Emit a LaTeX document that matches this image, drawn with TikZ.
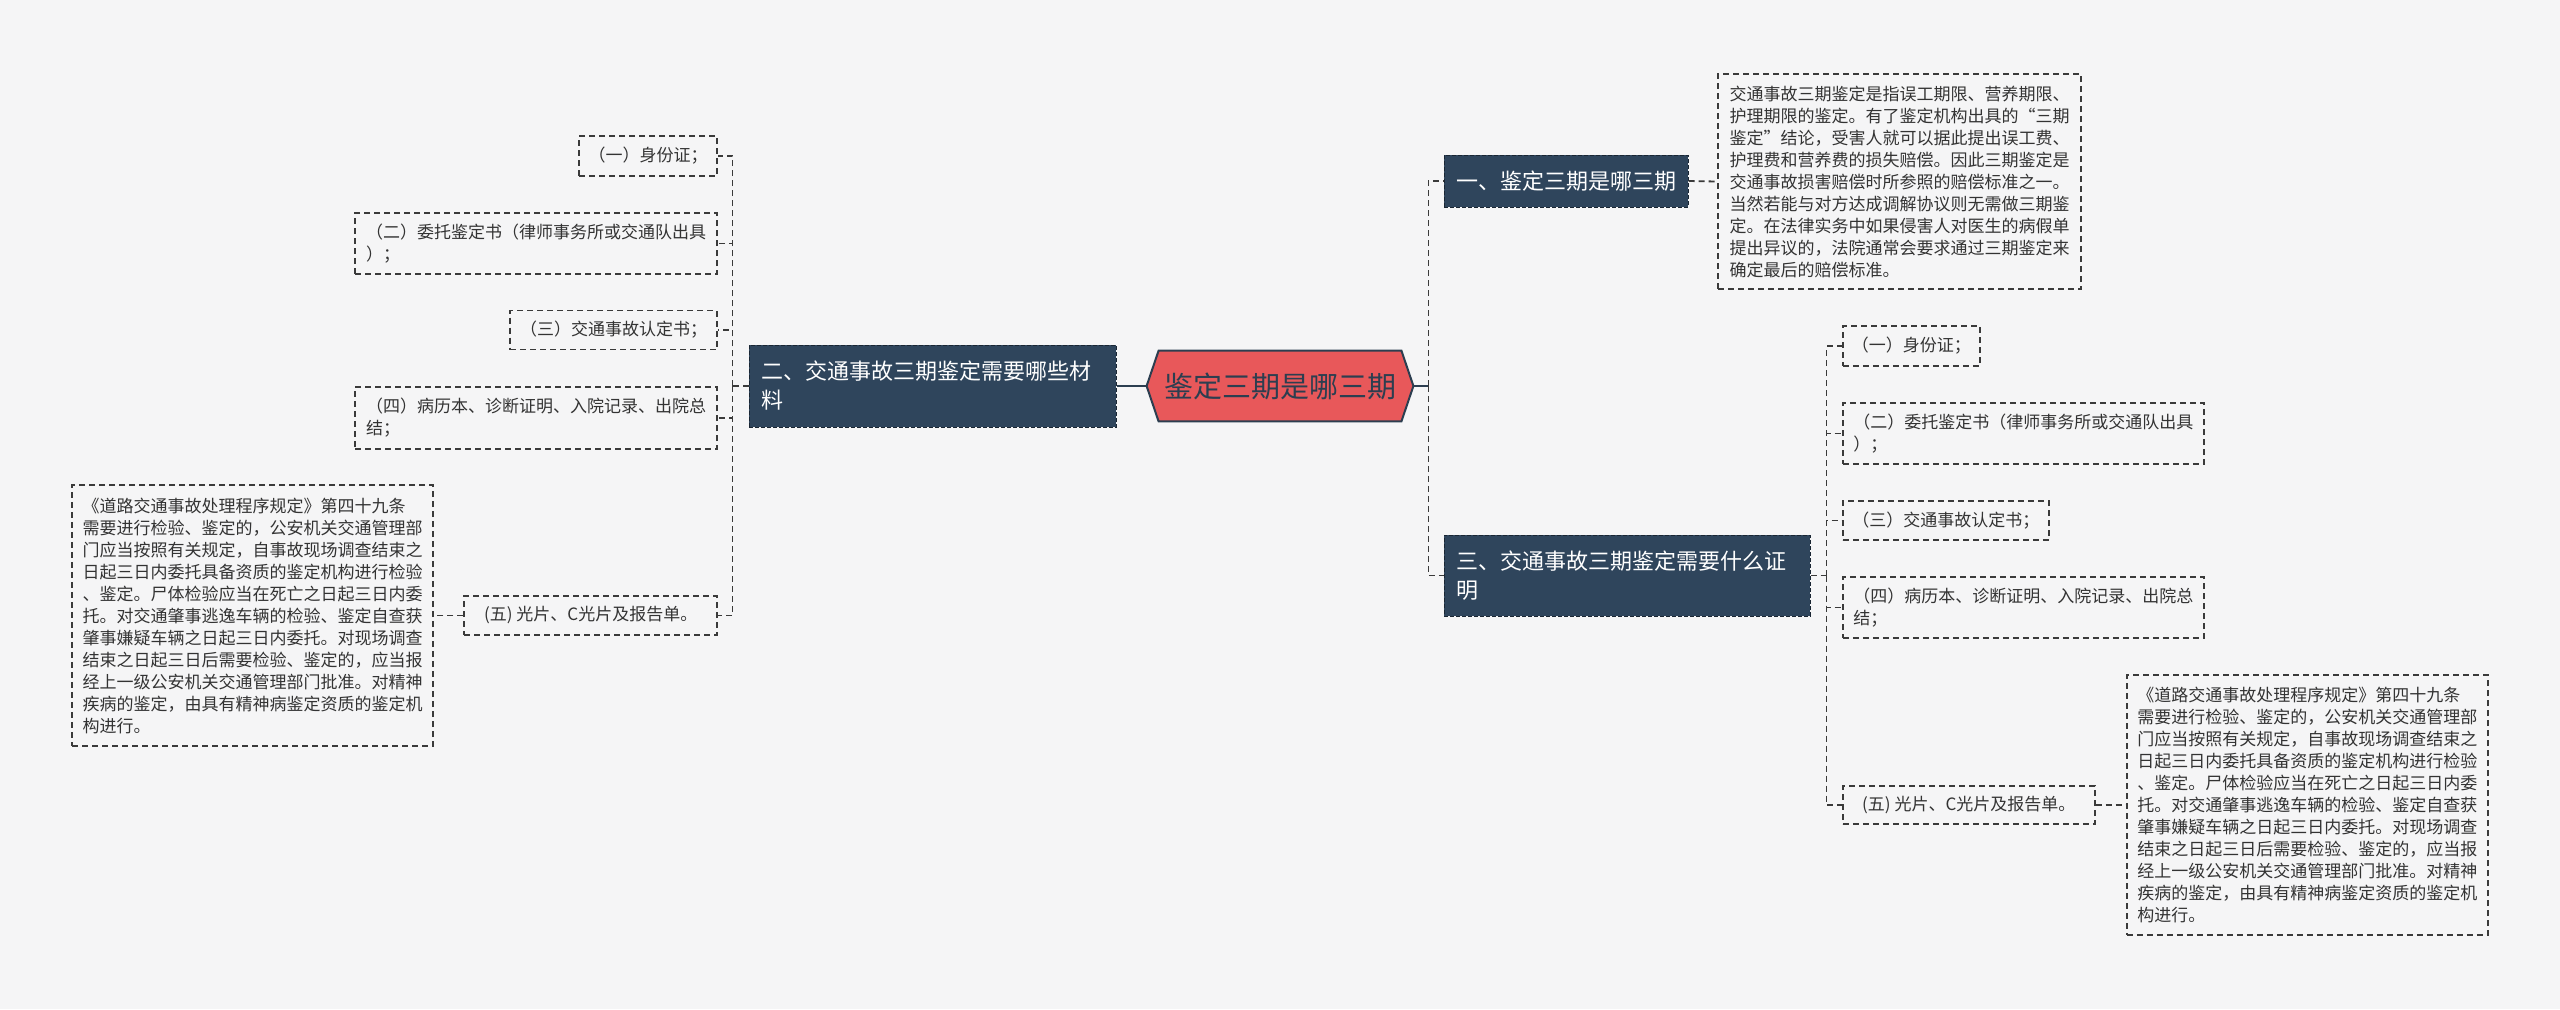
\documentclass[tikz,border=0pt]{standalone}
\usepackage{fontspec}
\setmainfont{Noto Sans CJK SC}
\usetikzlibrary{backgrounds}
\definecolor{bgc}{HTML}{F5F5F6}
\definecolor{topicc}{HTML}{2F455C}
\definecolor{hubc}{HTML}{E8585A}
\definecolor{inkc}{HTML}{2C3E50}
\definecolor{linec}{HTML}{3A3A3A}
\definecolor{txtc}{HTML}{333333}
\begin{document}
\begin{tikzpicture}[x=0.5pt,y=-0.5pt,
 hub/.style={minimum width=133pt,minimum height=35pt,inner sep=0pt,text=inkc,font=\fontsize{14.5}{16}\selectfont},
 topic/.style={fill=topicc,draw=topicc!55!black,dash pattern=on 2pt off 1pt,line width=0.5pt,text=white,font=\fontsize{11}{14.5}\selectfont,align=left,inner xsep=6pt,inner ysep=0pt},
 leaf/.style={draw=linec,dash pattern=on 3pt off 2pt,line width=0.8pt,text=txtc,font=\fontsize{8.5}{11}\selectfont,align=left,inner xsep=4pt,inner ysep=0pt},
 link/.style={draw=linec,line width=0.9pt,dash pattern=on 3pt off 2pt},
 stem/.style={draw=inkc,line width=1pt}]
\useasboundingbox (0,0) rectangle (2560,1009);
\node[hub] (hub) at (1280,386) {鉴定三期是哪三期};
\node[topic,minimum width=121pt,minimum height=26pt] (t1) at (1566,181) {一、鉴定三期是哪三期};
\node[topic,text width=171.5pt,minimum height=41pt] (t2) at (932.5,386) {二、交通事故三期鉴定需要哪些材\\料};
\node[topic,text width=171pt,minimum height=40.5pt] (t3) at (1627,575.5) {三、交通事故三期鉴定需要什么证\\明};
\node[leaf,minimum width=181.5pt,minimum height=107.5pt] (n1) at (1899.5,181.5) {交通事故三期鉴定是指误工期限、营养期限、\\护理期限的鉴定。有了鉴定机构出具的“三期\\鉴定”结论，受害人就可以据此提出误工费、\\护理费和营养费的损失赔偿。因此三期鉴定是\\交通事故损害赔偿时所参照的赔偿标准之一。\\当然若能与对方达成调解协议则无需做三期鉴\\定。在法律实务中如果侵害人对医生的病假单\\提出异议的，法院通常会要求通过三期鉴定来\\确定最后的赔偿标准。};
\node[leaf,anchor=east,minimum width=69pt,minimum height=20pt] (a1) at (718,156) {（一）身份证；};
\node[leaf,anchor=east,minimum width=181pt,minimum height=30.5pt] (a2) at (718,243.5) {（二）委托鉴定书（律师事务所或交通队出具\\）；};
\node[leaf,anchor=east,minimum width=103.5pt,minimum height=19.5pt] (a3) at (718,330) {（三）交通事故认定书；};
\node[leaf,anchor=east,minimum width=181pt,minimum height=31pt] (a4) at (718,418) {（四）病历本、诊断证明、入院记录、出院总\\结；};
\node[leaf,anchor=east,minimum width=126.5pt,minimum height=19.5pt] (a5) at (718,615.5) {(五) 光片、C光片及报告单。};
\node[leaf,anchor=east,minimum width=180.5pt,minimum height=130.5pt] (n2) at (434,615.5) {《道路交通事故处理程序规定》第四十九条\\需要进行检验、鉴定的，公安机关交通管理部\\门应当按照有关规定，自事故现场调查结束之\\日起三日内委托具备资质的鉴定机构进行检验\\、鉴定。尸体检验应当在死亡之日起三日内委\\托。对交通肇事逃逸车辆的检验、鉴定自查获\\肇事嫌疑车辆之日起三日内委托。对现场调查\\结束之日起三日后需要检验、鉴定的，应当报\\经上一级公安机关交通管理部门批准。对精神\\疾病的鉴定，由具有精神病鉴定资质的鉴定机\\构进行。};
\node[leaf,anchor=west,minimum width=68.5pt,minimum height=20pt] (b1) at (1842,346) {（一）身份证；};
\node[leaf,anchor=west,minimum width=180.5pt,minimum height=30.5pt] (b2) at (1842,433.5) {（二）委托鉴定书（律师事务所或交通队出具\\）；};
\node[leaf,anchor=west,minimum width=103pt,minimum height=19.5pt] (b3) at (1842,520.5) {（三）交通事故认定书；};
\node[leaf,anchor=west,minimum width=180.5pt,minimum height=30.5pt] (b4) at (1842,607.5) {（四）病历本、诊断证明、入院记录、出院总\\结；};
\node[leaf,anchor=west,minimum width=126pt,minimum height=19pt] (b5) at (1842,805) {(五) 光片、C光片及报告单。};
\node[leaf,anchor=west,minimum width=180.5pt,minimum height=130pt] (n3) at (2126,805) {《道路交通事故处理程序规定》第四十九条\\需要进行检验、鉴定的，公安机关交通管理部\\门应当按照有关规定，自事故现场调查结束之\\日起三日内委托具备资质的鉴定机构进行检验\\、鉴定。尸体检验应当在死亡之日起三日内委\\托。对交通肇事逃逸车辆的检验、鉴定自查获\\肇事嫌疑车辆之日起三日内委托。对现场调查\\结束之日起三日后需要检验、鉴定的，应当报\\经上一级公安机关交通管理部门批准。对精神\\疾病的鉴定，由具有精神病鉴定资质的鉴定机\\构进行。};
\begin{scope}[on background layer]
\fill[bgc] (0,0) rectangle (2560,1009);
\filldraw[fill=hubc,draw=inkc,line width=1pt] (hub.west)--([xshift=6pt]hub.north west)--([xshift=-6pt]hub.north east)--(hub.east)--([xshift=-6pt]hub.south east)--([xshift=6pt]hub.south west)--cycle;
\end{scope}
\coordinate (rj) at ([xshift=7.5pt]hub.east);
\coordinate (lj) at ([xshift=-8pt]t2.west);
\coordinate (bj) at ([xshift=8pt]t3.east);
\draw[stem] (hub.east)--(rj);\draw[stem] (hub.west)--(t2.east);
\draw[link] (rj)|-(t1.west);\draw[link] (rj)|-(t3.west);
\draw[link] (t1.east)--(n1.west);
\draw[link] (t2.west)--(lj);
\foreach \i in {a1,a2,a3,a4,a5} \draw[link] (lj)|-(\i.east);
\draw[link] (a5.west)--(n2.east);
\draw[link] (t3.east)--(bj);
\foreach \i in {b1,b2,b3,b4,b5} \draw[link] (bj)|-(\i.west);
\draw[link] (b5.east)--(n3.west);
\end{tikzpicture}
\end{document}
